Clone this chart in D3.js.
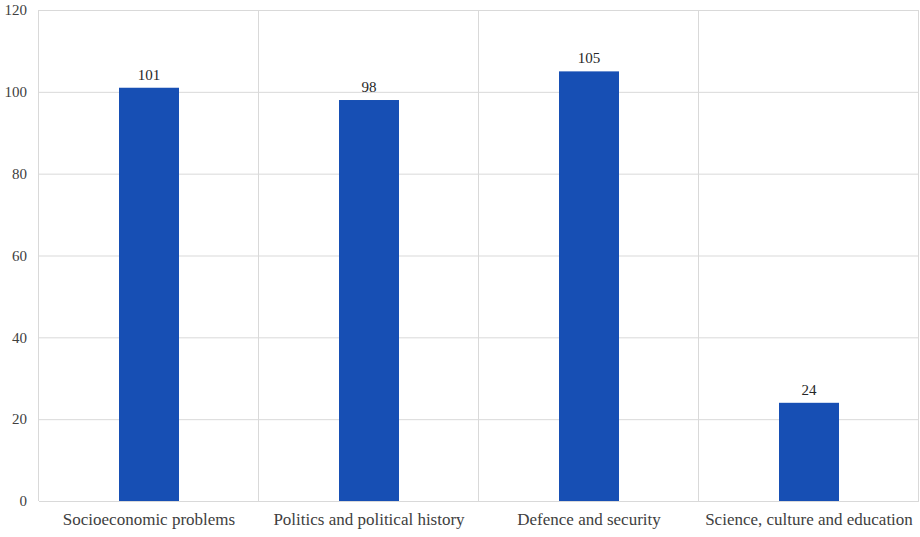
<!DOCTYPE html>
<html><head><meta charset="utf-8">
<script src="https://cdn.jsdelivr.net/npm/d3@7"></script>
<style>body{margin:0;background:#fff}svg{display:block}
svg text{font-family:"Liberation Serif","Times New Roman","DejaVu Serif",serif !important}</style>
</head><body><svg id="c" width="920" height="537"></svg>
<script>
const categories = ["Socioeconomic problems","Politics and political history","Defence and security","Science, culture and education"];
const values = [101, 98, 105, 24];
const yTicks = [0, 20, 40, 60, 80, 100, 120];

const svg = d3.select("#c");
const m = {l:39, r:919, t:10, b:501};
const x = d3.scaleBand().domain(categories).range([m.l, m.r]).paddingInner(0).paddingOuter(0);
const y = d3.scaleLinear().domain([0,120]).range([m.b, m.t]);

// horizontal grid
svg.append("g").selectAll("line").data(yTicks).join("line")
  .attr("x1", m.l).attr("x2", m.r)
  .attr("y1", d=>y(d)+0.5).attr("y2", d=>y(d)+0.5)
  .attr("stroke", "#d9d9d9").attr("stroke-width", 1);
// vertical grid
const vx = [m.l, ...categories.map(c=>x(c)+x.bandwidth())];
svg.append("g").selectAll("line").data(vx).join("line")
  .attr("x1", d=>Math.round(d)-0.5).attr("x2", d=>Math.round(d)-0.5)
  .attr("y1", m.t).attr("y2", m.b)
  .attr("stroke", "#d9d9d9").attr("stroke-width", 1);

// y axis labels
const ya = svg.append("g").attr("transform", `translate(${m.l},0)`)
  .call(d3.axisLeft(y).tickValues(yTicks).tickSize(0).tickPadding(12));
ya.select(".domain").remove();
ya.selectAll("text").attr("font-size", 15).attr("fill", "#404040");

// x axis labels
const xa = svg.append("g").attr("transform", `translate(0,${m.b})`)
  .call(d3.axisBottom(x).tickSize(0).tickPadding(12));
xa.select(".domain").remove();
xa.selectAll("text").attr("font-size", 17).attr("fill", "#404040");

// bars
const bw = 60;
svg.append("g").selectAll("rect").data(values).join("rect")
  .attr("x", (d,i)=>x(categories[i]) + x.bandwidth()/2 - bw/2)
  .attr("width", bw)
  .attr("y", d=>y(d))
  .attr("height", d=>y(0)-y(d))
  .attr("fill", "#174fb4");

// value labels
svg.append("g").selectAll("text").data(values).join("text")
  .attr("x", (d,i)=>x(categories[i]) + x.bandwidth()/2)
  .attr("y", d=>y(d)-8)
  .attr("text-anchor", "middle")
  .attr("font-size", 15).attr("fill", "#262626")
  .text(d=>d);
</script></body></html>
